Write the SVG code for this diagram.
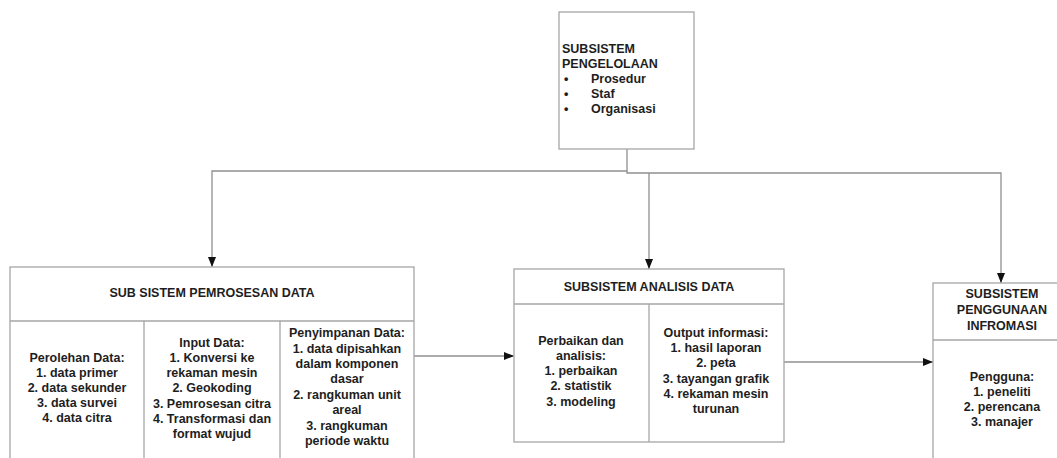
<svg xmlns="http://www.w3.org/2000/svg" width="1057" height="458" viewBox="0 0 1057 458">
<style>
.box{fill:#fff;stroke:#a6a6a6;stroke-width:1.3}
.div{stroke:#a6a6a6;stroke-width:1.3;fill:none}
.con{stroke:#909090;stroke-width:1.3;fill:none}
text{font-family:"Liberation Sans",Arial,sans-serif;font-weight:bold;font-size:12.5px;fill:#1e1e1e}
.c{text-anchor:middle}
</style>
<defs>
<marker id="ah" markerUnits="userSpaceOnUse" markerWidth="10" markerHeight="10" viewBox="0 0 10 10" refX="10" refY="5" orient="auto">
<path d="M0,1 L10,5 L0,9 Z" fill="#111"/>
</marker>
</defs>
<rect width="1057" height="458" fill="#fff"/>

<g id="connectors">
<polyline class="con" points="627,149 627,171 212,171 212,267" marker-end="url(#ah)"/>
<polyline class="con" points="627,171 627,173 1001,173 1001,283" marker-end="url(#ah)"/>
<line class="con" x1="649" y1="173" x2="649" y2="269" marker-end="url(#ah)"/>
<line class="con" x1="414" y1="356" x2="514" y2="356" marker-end="url(#ah)"/>
<line class="con" x1="784" y1="362" x2="933" y2="362" marker-end="url(#ah)"/>
</g>

<g id="pengelolaan">
<rect class="box" x="559" y="12" width="135" height="137"/>
<text x="562" y="53">SUBSISTEM</text>
<text x="562" y="68">PENGELOLAAN</text>
<text x="564" y="83">•</text><text x="591" y="83">Prosedur</text>
<text x="564" y="98">•</text><text x="591" y="98">Staf</text>
<text x="564" y="113">•</text><text x="591" y="113">Organisasi</text>
</g>

<g id="pemrosesan">
<rect class="box" x="10" y="267" width="404" height="210"/>
<line class="div" x1="10" y1="321" x2="414" y2="321"/>
<line class="div" x1="144" y1="321" x2="144" y2="470"/>
<line class="div" x1="280" y1="321" x2="280" y2="470"/>
<text class="c" x="212" y="297">SUB SISTEM PEMROSESAN DATA</text>
<text class="c" x="77" y="362">Perolehan Data:</text>
<text class="c" x="77" y="377">1. data primer</text>
<text class="c" x="77" y="392">2. data sekunder</text>
<text class="c" x="77" y="407">3. data survei</text>
<text class="c" x="77" y="422">4. data citra</text>
<text class="c" x="212" y="347">Input Data:</text>
<text class="c" x="212" y="362">1. Konversi ke</text>
<text class="c" x="212" y="377">rekaman mesin</text>
<text class="c" x="212" y="392">2. Geokoding</text>
<text class="c" x="212" y="408">3. Pemrosesan citra</text>
<text class="c" x="212" y="423">4. Transformasi dan</text>
<text class="c" x="212" y="438">format wujud</text>
<text class="c" x="347" y="337">Penyimpanan Data:</text>
<text class="c" x="347" y="353">1. data dipisahkan</text>
<text class="c" x="347" y="368">dalam komponen</text>
<text class="c" x="347" y="383">dasar</text>
<text class="c" x="347" y="399">2. rangkuman unit</text>
<text class="c" x="347" y="414">areal</text>
<text class="c" x="347" y="430">3. rangkuman</text>
<text class="c" x="347" y="445">periode waktu</text>
</g>

<g id="analisis">
<rect class="box" x="514" y="269" width="270" height="173"/>
<line class="div" x1="514" y1="304" x2="784" y2="304"/>
<line class="div" x1="649" y1="304" x2="649" y2="442"/>
<text class="c" x="649" y="291">SUBSISTEM ANALISIS DATA</text>
<text class="c" x="581" y="345">Perbaikan dan</text>
<text class="c" x="581" y="360">analisis:</text>
<text class="c" x="581" y="375">1. perbaikan</text>
<text class="c" x="581" y="390">2. statistik</text>
<text class="c" x="581" y="406">3. modeling</text>
<text class="c" x="716" y="337">Output informasi:</text>
<text class="c" x="716" y="352">1. hasil laporan</text>
<text class="c" x="716" y="367">2. peta</text>
<text class="c" x="716" y="383">3. tayangan grafik</text>
<text class="c" x="716" y="398">4. rekaman mesin</text>
<text class="c" x="716" y="413">turunan</text>
</g>

<g id="penggunaan">
<rect class="box" x="933" y="283" width="140" height="190"/>
<line class="div" x1="933" y1="340" x2="1070" y2="340"/>
<text class="c" x="1002" y="298">SUBSISTEM</text>
<text class="c" x="1002" y="314">PENGGUNAAN</text>
<text class="c" x="1002" y="330">INFROMASI</text>
<text class="c" x="1002" y="381">Pengguna:</text>
<text class="c" x="1002" y="396">1. peneliti</text>
<text class="c" x="1002" y="411">2. perencana</text>
<text class="c" x="1002" y="426">3. manajer</text>
</g>
</svg>
